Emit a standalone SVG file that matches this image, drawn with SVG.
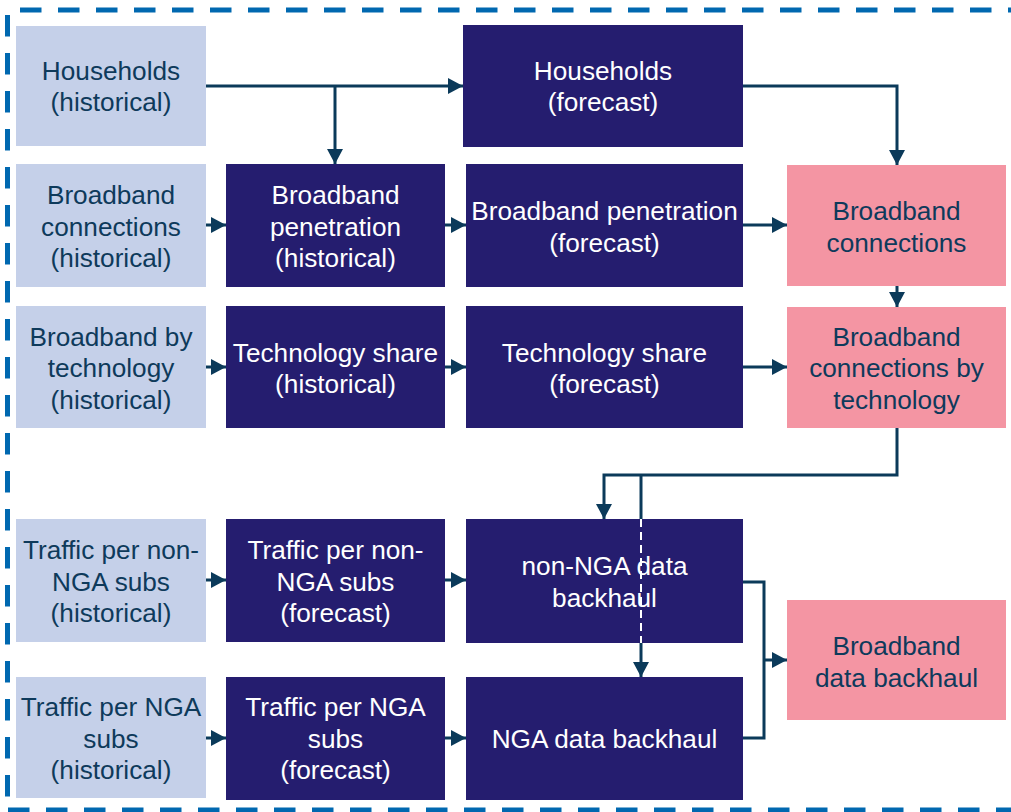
<svg xmlns="http://www.w3.org/2000/svg" width="1011" height="812" viewBox="0 0 1011 812">
<defs>
<marker id="ah" markerUnits="userSpaceOnUse" markerWidth="16" markerHeight="16" viewBox="0 0 16 16" refX="15" refY="8" orient="auto">
<path d="M0 0 L15 8 L0 16 Z" fill="#0B3A5A"/>
</marker>
</defs>
<style>
.hist{fill:#C5D0E9}
.dark{fill:#251D6F}
.pink{fill:#F495A3}
text{font-family:"Liberation Sans",Arial,sans-serif;font-size:26.2px;text-anchor:middle}
.dt{fill:#0E3A5B}
.wt{fill:#FFFFFF}
.c{fill:none;stroke:#0B3A5A;stroke-width:3}
.bd{fill:none;stroke:#0068B0;stroke-width:5;stroke-dasharray:21.5 16.5}
</style>
<g id="border">
<path class="bd" d="M20 10 H1011"/>
<path class="bd" d="M7.5 15 V800"/>
<path class="bd" d="M8 810 H1011"/>
</g>
<g id="connectors">
<path class="c" d="M206 86 H463" marker-end="url(#ah)"/>
<path class="c" d="M335 86 V164" marker-end="url(#ah)"/>
<path class="c" d="M743 86 H897 V165" marker-end="url(#ah)"/>
<path class="c" d="M206 225 H226" marker-end="url(#ah)"/>
<path class="c" d="M445 225 H466" marker-end="url(#ah)"/>
<path class="c" d="M743 225 H787" marker-end="url(#ah)"/>
<path class="c" d="M897 286 V307" marker-end="url(#ah)"/>
<path class="c" d="M206 367 H226" marker-end="url(#ah)"/>
<path class="c" d="M445 367 H466" marker-end="url(#ah)"/>
<path class="c" d="M743 367 H787" marker-end="url(#ah)"/>
<path class="c" d="M897 428 V475 H604 V519" marker-end="url(#ah)"/>
<path class="c" d="M641 475 V519"/>
<path class="c" d="M641 643 V677" marker-end="url(#ah)"/>
<path class="c" d="M206 580 H226" marker-end="url(#ah)"/>
<path class="c" d="M445 580 H466" marker-end="url(#ah)"/>
<path class="c" d="M206 738 H226" marker-end="url(#ah)"/>
<path class="c" d="M445 738 H466" marker-end="url(#ah)"/>
<path class="c" d="M743 582 H764 V738 H743"/>
<path class="c" d="M764 660 H787" marker-end="url(#ah)"/>
</g>
<g id="households-hist"><rect class="hist" x="16" y="26" width="190" height="120"/><text class="dt" x="111" y="79.5">Households</text><text class="dt" x="111" y="111">(historical)</text></g>
<g id="households-fc"><rect class="dark" x="463" y="25" width="280" height="122"/><text class="wt" x="603" y="79.5">Households</text><text class="wt" x="603" y="111">(forecast)</text></g>
<g id="bb-conn-hist"><rect class="hist" x="16" y="164" width="190" height="123"/><text class="dt" x="111" y="204">Broadband</text><text class="dt" x="111" y="235.5">connections</text><text class="dt" x="111" y="267">(historical)</text></g>
<g id="bb-pen-hist"><rect class="dark" x="226" y="164" width="219" height="123"/><text class="wt" x="335.5" y="204">Broadband</text><text class="wt" x="335.5" y="235.5">penetration</text><text class="wt" x="335.5" y="267">(historical)</text></g>
<g id="bb-pen-fc"><rect class="dark" x="466" y="164" width="277" height="123"/><text class="wt" x="604.5" y="220">Broadband penetration</text><text class="wt" x="604.5" y="251.5">(forecast)</text></g>
<g id="bb-conn"><rect class="pink" x="787" y="165" width="219" height="121"/><text class="dt" x="896.5" y="220">Broadband</text><text class="dt" x="896.5" y="251.5">connections</text></g>
<g id="bb-tech-hist"><rect class="hist" x="16" y="306" width="190" height="122"/><text class="dt" x="111" y="345.5">Broadband by</text><text class="dt" x="111" y="377">technology</text><text class="dt" x="111" y="408.5">(historical)</text></g>
<g id="tech-share-hist"><rect class="dark" x="226" y="306" width="219" height="122"/><text class="wt" x="335.5" y="361.5">Technology share</text><text class="wt" x="335.5" y="393">(historical)</text></g>
<g id="tech-share-fc"><rect class="dark" x="466" y="306" width="277" height="122"/><text class="wt" x="604.5" y="361.5">Technology share</text><text class="wt" x="604.5" y="393">(forecast)</text></g>
<g id="bb-conn-tech"><rect class="pink" x="787" y="307" width="219" height="121"/><text class="dt" x="896.5" y="345.5">Broadband</text><text class="dt" x="896.5" y="377">connections by</text><text class="dt" x="896.5" y="408.5">technology</text></g>
<g id="traffic-non-hist"><rect class="hist" x="16" y="519" width="190" height="123"/><text class="dt" x="111" y="559">Traffic per non-</text><text class="dt" x="111" y="590.5">NGA subs</text><text class="dt" x="111" y="622">(historical)</text></g>
<g id="traffic-non-fc"><rect class="dark" x="226" y="519" width="219" height="123"/><text class="wt" x="335.5" y="559">Traffic per non-</text><text class="wt" x="335.5" y="590.5">NGA subs</text><text class="wt" x="335.5" y="622">(forecast)</text></g>
<g id="non-nga-backhaul"><rect class="dark" x="466" y="519" width="277" height="124"/><text class="wt" x="604.5" y="575">non-NGA data</text><text class="wt" x="604.5" y="606.5">backhaul</text><path d="M641 519 V643" fill="none" stroke="#FFFFFF" stroke-width="2" stroke-dasharray="8 5"/></g>
<g id="traffic-nga-hist"><rect class="hist" x="16" y="677" width="190" height="121"/><text class="dt" x="111" y="716">Traffic per NGA</text><text class="dt" x="111" y="747.5">subs</text><text class="dt" x="111" y="779">(historical)</text></g>
<g id="traffic-nga-fc"><rect class="dark" x="226" y="677" width="219" height="123"/><text class="wt" x="335.5" y="716">Traffic per NGA</text><text class="wt" x="335.5" y="747.5">subs</text><text class="wt" x="335.5" y="779">(forecast)</text></g>
<g id="nga-backhaul"><rect class="dark" x="466" y="677" width="277" height="123"/><text class="wt" x="604.5" y="748">NGA data backhaul</text></g>
<g id="bb-data-backhaul"><rect class="pink" x="787" y="600" width="219" height="120"/><text class="dt" x="896.5" y="655">Broadband</text><text class="dt" x="896.5" y="686.5">data backhaul</text></g>
</svg>
